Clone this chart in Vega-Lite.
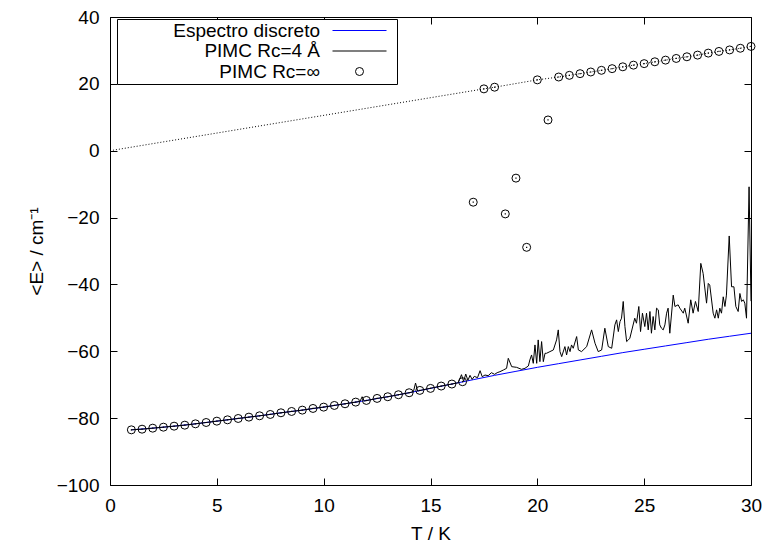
{
  "$schema": "https://vega.github.io/schema/vega-lite/v6.json",
  "width": 641,
  "height": 468,
  "autosize": {"type": "none"},
  "padding": {"left": 110, "top": 17, "right": 14, "bottom": 61},
  "background": "white",
  "config": {
    "font": "Liberation Sans",
    "view": {"stroke": "black", "strokeWidth": 1},
    "axis": {
      "grid": false, "domain": false, "ticks": true, "tickColor": "black", "tickWidth": 1, "tickSize": -7,
      "labelFontSize": 19, "labelColor": "black", "labelFlush": false, "labelPadding": 18,
      "titleFontSize": 19, "titleFontWeight": "normal", "titleColor": "black"
    },
    "legend": {
      "orient": "none", "legendX": 7, "legendY": 2, "title": null,
      "strokeColor": "black", "fillColor": "white", "padding": 2, "cornerRadius": 0,
      "rowPadding": 0.5, "symbolSize": 400, "symbolOffset": 231,
      "labelAlign": "right", "labelOffset": -49, "labelFontSize": 19, "labelColor": "black", "labelLimit": 0
    }
  },
  "datasets": {
    "disc": [
      {"T": 1, "E": -83.5}, {"T": 2, "E": -83.0}, {"T": 3, "E": -82.4}, {"T": 4, "E": -81.7},
      {"T": 5, "E": -80.9}, {"T": 6, "E": -80.1}, {"T": 7, "E": -79.3}, {"T": 8, "E": -78.4},
      {"T": 9, "E": -77.6}, {"T": 10, "E": -76.7}, {"T": 11, "E": -75.7}, {"T": 12, "E": -74.7},
      {"T": 13, "E": -73.6}, {"T": 14, "E": -72.4}, {"T": 15, "E": -71.1}, {"T": 16, "E": -69.8},
      {"T": 17, "E": -68.5}, {"T": 18, "E": -67.2}, {"T": 19, "E": -66.0}, {"T": 20, "E": -64.8},
      {"T": 21, "E": -63.7}, {"T": 22, "E": -62.6}, {"T": 23, "E": -61.5}, {"T": 24, "E": -60.4},
      {"T": 25, "E": -59.4}, {"T": 26, "E": -58.4}, {"T": 27, "E": -57.4}, {"T": 28, "E": -56.4},
      {"T": 29, "E": -55.5}, {"T": 30, "E": -54.6}
    ],
    "pimc4": [
      {"T": 1, "E": -83.5}, {"T": 1.5, "E": -83.3}, {"T": 2, "E": -83.0}, {"T": 2.5, "E": -82.7},
      {"T": 3, "E": -82.4}, {"T": 3.5, "E": -82.1}, {"T": 4, "E": -81.7}, {"T": 4.5, "E": -81.3},
      {"T": 5, "E": -80.9}, {"T": 5.5, "E": -80.5}, {"T": 6, "E": -80.1}, {"T": 6.5, "E": -79.7},
      {"T": 7, "E": -79.3}, {"T": 7.5, "E": -78.9}, {"T": 8, "E": -78.4}, {"T": 8.5, "E": -78.0},
      {"T": 9, "E": -77.6}, {"T": 9.5, "E": -77.1}, {"T": 10, "E": -76.7}, {"T": 10.5, "E": -76.2},
      {"T": 11, "E": -75.7}, {"T": 11.5, "E": -75.2}, {"T": 11.7, "E": -75.0}, {"T": 11.8, "E": -73.6},
      {"T": 11.9, "E": -74.9}, {"T": 12.5, "E": -74.1}, {"T": 13, "E": -73.6}, {"T": 13.5, "E": -73.0},
      {"T": 14, "E": -72.4}, {"T": 14.2, "E": -72.1}, {"T": 14.3, "E": -69.5}, {"T": 14.4, "E": -71.9},
      {"T": 14.8, "E": -71.3}, {"T": 15.2, "E": -70.8}, {"T": 15.5, "E": -70.4}, {"T": 16, "E": -69.8},
      {"T": 16.3, "E": -69.4}, {"T": 16.45, "E": -67.0}, {"T": 16.55, "E": -69.0}, {"T": 16.65, "E": -66.8},
      {"T": 16.75, "E": -68.7}, {"T": 16.85, "E": -67.2}, {"T": 16.95, "E": -68.4}, {"T": 17.05, "E": -67.5},
      {"T": 17.2, "E": -67.9}, {"T": 17.32, "E": -65.8}, {"T": 17.42, "E": -67.6}, {"T": 17.55, "E": -67.1},
      {"T": 17.7, "E": -67.3}, {"T": 17.85, "E": -66.4}, {"T": 18.0, "E": -66.9}, {"T": 18.12, "E": -66.4},
      {"T": 18.25, "E": -66.1}, {"T": 18.41, "E": -65.6}, {"T": 18.56, "E": -65.1}, {"T": 18.64, "E": -62.1},
      {"T": 18.8, "E": -64.6}, {"T": 19.03, "E": -64.8}, {"T": 19.26, "E": -65.4}, {"T": 19.42, "E": -65.1},
      {"T": 19.58, "E": -64.4}, {"T": 19.65, "E": -62.6}, {"T": 19.73, "E": -61.1}, {"T": 19.81, "E": -63.6},
      {"T": 19.89, "E": -58.1}, {"T": 19.97, "E": -63.6}, {"T": 20.04, "E": -56.6}, {"T": 20.12, "E": -63.1},
      {"T": 20.2, "E": -57.1}, {"T": 20.28, "E": -63.1}, {"T": 20.36, "E": -60.6}, {"T": 20.43, "E": -60.6},
      {"T": 20.59, "E": -60.1}, {"T": 20.75, "E": -59.6}, {"T": 20.9, "E": -56.6}, {"T": 20.98, "E": -53.6},
      {"T": 21.06, "E": -60.1}, {"T": 21.14, "E": -61.6}, {"T": 21.29, "E": -58.6}, {"T": 21.37, "E": -61.1},
      {"T": 21.45, "E": -58.6}, {"T": 21.53, "E": -60.1}, {"T": 21.6, "E": -58.1}, {"T": 21.68, "E": -59.1},
      {"T": 21.84, "E": -55.6}, {"T": 21.92, "E": -59.6}, {"T": 22.07, "E": -60.1}, {"T": 22.31, "E": -58.6},
      {"T": 22.54, "E": -53.6}, {"T": 22.7, "E": -57.6}, {"T": 22.85, "E": -60.1}, {"T": 23.01, "E": -59.6},
      {"T": 23.16, "E": -53.1}, {"T": 23.32, "E": -58.6}, {"T": 23.48, "E": -59.1}, {"T": 23.63, "E": -52.1},
      {"T": 23.71, "E": -50.6}, {"T": 23.79, "E": -54.1}, {"T": 23.87, "E": -51.1}, {"T": 23.94, "E": -50.1},
      {"T": 24.02, "E": -45.1}, {"T": 24.1, "E": -52.6}, {"T": 24.18, "E": -57.1}, {"T": 24.26, "E": -56.6},
      {"T": 24.33, "E": -56.1}, {"T": 24.56, "E": -50.1}, {"T": 24.64, "E": -51.6}, {"T": 24.75, "E": -46.6},
      {"T": 24.83, "E": -54.1}, {"T": 24.92, "E": -48.6}, {"T": 25.03, "E": -52.6}, {"T": 25.11, "E": -48.6},
      {"T": 25.19, "E": -53.6}, {"T": 25.27, "E": -48.1}, {"T": 25.34, "E": -54.6}, {"T": 25.42, "E": -49.6},
      {"T": 25.5, "E": -53.6}, {"T": 25.58, "E": -47.1}, {"T": 25.66, "E": -47.6}, {"T": 25.73, "E": -52.1},
      {"T": 25.81, "E": -53.1}, {"T": 25.89, "E": -53.6}, {"T": 25.97, "E": -52.1}, {"T": 26.05, "E": -48.6},
      {"T": 26.12, "E": -47.1}, {"T": 26.2, "E": -54.6}, {"T": 26.36, "E": -43.2}, {"T": 26.44, "E": -46.6},
      {"T": 26.59, "E": -46.1}, {"T": 26.67, "E": -47.1}, {"T": 26.83, "E": -48.6}, {"T": 26.9, "E": -47.1},
      {"T": 27.06, "E": -51.6}, {"T": 27.18, "E": -44.6}, {"T": 27.29, "E": -48.6}, {"T": 27.4, "E": -45.1},
      {"T": 27.53, "E": -48.1}, {"T": 27.65, "E": -33.7}, {"T": 27.76, "E": -36.7}, {"T": 27.92, "E": -45.6},
      {"T": 28.0, "E": -39.7}, {"T": 28.07, "E": -40.2}, {"T": 28.23, "E": -48.6}, {"T": 28.31, "E": -50.1},
      {"T": 28.39, "E": -47.6}, {"T": 28.47, "E": -50.1}, {"T": 28.54, "E": -47.1}, {"T": 28.62, "E": -48.6},
      {"T": 28.7, "E": -43.7}, {"T": 28.78, "E": -46.6}, {"T": 28.85, "E": -43.2}, {"T": 28.98, "E": -25.5},
      {"T": 29.09, "E": -40.7}, {"T": 29.2, "E": -40.7}, {"T": 29.29, "E": -46.6}, {"T": 29.4, "E": -48.1},
      {"T": 29.48, "E": -42.7}, {"T": 29.56, "E": -45.1}, {"T": 29.64, "E": -44.6}, {"T": 29.71, "E": -45.6},
      {"T": 29.79, "E": -50.1}, {"T": 29.91, "E": -10.8}, {"T": 30.0, "E": -45.0}
    ],
    "pimcinf": [
      {"T": 1, "E": -83.5}, {"T": 1.5, "E": -83.3}, {"T": 2, "E": -83.0}, {"T": 2.5, "E": -82.7},
      {"T": 3, "E": -82.4}, {"T": 3.5, "E": -82.1}, {"T": 4, "E": -81.7}, {"T": 4.5, "E": -81.3},
      {"T": 5, "E": -80.9}, {"T": 5.5, "E": -80.5}, {"T": 6, "E": -80.1}, {"T": 6.5, "E": -79.7},
      {"T": 7, "E": -79.3}, {"T": 7.5, "E": -78.9}, {"T": 8, "E": -78.4}, {"T": 8.5, "E": -78.0},
      {"T": 9, "E": -77.6}, {"T": 9.5, "E": -77.1}, {"T": 10, "E": -76.7}, {"T": 10.5, "E": -76.2},
      {"T": 11, "E": -75.7}, {"T": 11.5, "E": -75.2}, {"T": 12, "E": -74.7}, {"T": 12.5, "E": -74.1},
      {"T": 13, "E": -73.6}, {"T": 13.5, "E": -73.0}, {"T": 14, "E": -72.4}, {"T": 14.5, "E": -71.7},
      {"T": 15, "E": -71.1}, {"T": 15.5, "E": -70.4}, {"T": 16, "E": -69.8}, {"T": 16.5, "E": -69.1},
      {"T": 17, "E": -15.4}, {"T": 17.5, "E": 18.5}, {"T": 18, "E": 19.0}, {"T": 18.5, "E": -18.9},
      {"T": 19, "E": -8.2}, {"T": 19.5, "E": -28.9}, {"T": 20, "E": 21.2}, {"T": 20.5, "E": 9.2},
      {"T": 21, "E": 22.05}, {"T": 21.5, "E": 22.55}, {"T": 22, "E": 23.05}, {"T": 22.5, "E": 23.55},
      {"T": 23, "E": 24.05}, {"T": 23.5, "E": 24.55}, {"T": 24, "E": 25.1}, {"T": 24.5, "E": 25.6},
      {"T": 25, "E": 26.05}, {"T": 25.5, "E": 26.6}, {"T": 26, "E": 27.1}, {"T": 26.5, "E": 27.6},
      {"T": 27, "E": 28.1}, {"T": 27.5, "E": 28.6}, {"T": 28, "E": 29.2}, {"T": 28.5, "E": 29.7},
      {"T": 29, "E": 30.15}, {"T": 29.5, "E": 30.65}, {"T": 30, "E": 31.2}
    ],
    "fit": [
      {"T": 0, "E": 0}, {"T": 17.5, "E": 18.5}, {"T": 18, "E": 19.0}, {"T": 20, "E": 21.2},
      {"T": 21, "E": 22.05}, {"T": 21.5, "E": 22.55}, {"T": 22, "E": 23.05}, {"T": 22.5, "E": 23.55},
      {"T": 23, "E": 24.05}, {"T": 23.5, "E": 24.55}, {"T": 24, "E": 25.1}, {"T": 24.5, "E": 25.6},
      {"T": 25, "E": 26.05}, {"T": 25.5, "E": 26.6}, {"T": 26, "E": 27.1}, {"T": 26.5, "E": 27.6},
      {"T": 27, "E": 28.1}, {"T": 27.5, "E": 28.6}, {"T": 28, "E": 29.2}, {"T": 28.5, "E": 29.7},
      {"T": 29, "E": 30.15}, {"T": 29.5, "E": 30.65}, {"T": 30, "E": 31.2}
    ]
  },
  "resolve": {"axis": {"x": "independent", "y": "independent"}},
  "layer": [
    {
      "data": {"name": "disc"},
      "mark": {"type": "line", "strokeWidth": 1, "clip": true},
      "encoding": {
        "x": {"field": "T", "type": "quantitative", "scale": {"domain": [0, 30], "nice": false, "zero": false},
              "axis": {"orient": "bottom", "title": "T / K", "values": [0, 5, 10, 15, 20, 25, 30], "titlePadding": 9}},
        "y": {"field": "E", "type": "quantitative", "scale": {"domain": [-100, 40], "nice": false, "zero": false},
              "axis": {"orient": "left", "title": "<E> / cm⁻¹", "values": [-100, -80, -60, -40, -20, 0, 20, 40], "titlePadding": 10}},
        "color": {
          "datum": "Espectro discreto",
          "scale": {"domain": ["Espectro discreto", "PIMC Rc=4 Å", "PIMC Rc=∞"], "range": ["#0000ff", "black", "black"]},
          "legend": {
            "encode": {
              "symbols": {
                "update": {
                  "shape": {"signal": "datum.value === 'PIMC Rc=∞' ? 'circle' : 'M-24.1,0L-24.1,0M-2.7,-0.06H2.7V0.06H-2.7ZM3.5,0L3.5,0'"},
                  "size": {"signal": "datum.value === 'PIMC Rc=∞' ? 64 : 400"},
                  "fill": {"signal": "datum.value === 'Espectro discreto' ? '#0000ff' : (datum.value === 'PIMC Rc=∞' ? 'transparent' : 'black')"},
                  "fillOpacity": {"value": 1},
                  "strokeWidth": {"signal": "datum.value === 'PIMC Rc=∞' ? 1 : 0"},
                  "opacity": {"value": 1}
                }
              }
            }
          }
        }
      }
    },
    {
      "data": {"name": "pimc4"},
      "mark": {"type": "line", "strokeWidth": 1, "clip": true},
      "encoding": {
        "x": {"field": "T", "type": "quantitative", "axis": null},
        "y": {"field": "E", "type": "quantitative", "axis": null},
        "color": {"datum": "PIMC Rc=4 Å"}
      }
    },
    {
      "data": {"name": "fit"},
      "mark": {"type": "line", "strokeWidth": 1, "strokeDash": [1, 2], "color": "black", "clip": true},
      "encoding": {
        "x": {"field": "T", "type": "quantitative", "axis": {"orient": "top", "title": null, "labels": false, "values": [0, 5, 10, 15, 20, 25, 30]}},
        "y": {"field": "E", "type": "quantitative", "axis": {"orient": "right", "title": null, "labels": false, "values": [-100, -80, -60, -40, -20, 0, 20, 40]}}
      }
    },
    {
      "data": {"name": "pimcinf"},
      "mark": {"type": "point", "shape": "circle", "filled": false, "size": 64, "strokeWidth": 1, "opacity": 1},
      "encoding": {
        "x": {"field": "T", "type": "quantitative", "axis": null},
        "y": {"field": "E", "type": "quantitative", "axis": null},
        "color": {"datum": "PIMC Rc=∞"}
      }
    },
    {
      "data": {"name": "pimcinf"},
      "mark": {"type": "point", "shape": "square", "filled": true, "size": 1.5, "color": "black", "opacity": 1},
      "encoding": {
        "x": {"field": "T", "type": "quantitative", "axis": null},
        "y": {"field": "E", "type": "quantitative", "axis": null}
      }
    }
  ]
}
